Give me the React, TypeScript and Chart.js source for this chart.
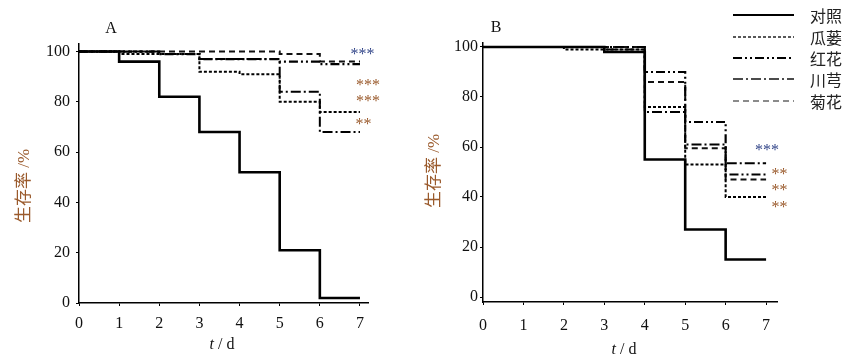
import React, { useEffect, useRef } from 'react';
import { Chart, registerables } from 'chart.js';
Chart.register(...registerables);

// ---------- data ----------
const days = [0, 1, 2, 3, 4, 5, 6, 7];
const xTickLabels = ['0', '1', '2', '3', '4', '5', '6', '7'];
const yTickValues = [0, 20, 40, 60, 80, 100];
const seriesNames = ['对照', '瓜蒌', '红花', '川芎', '菊花'];

// Panel A survival (%) per day (value holds until next day)
const controlA = [100, 96, 82, 68, 52, 21, 2, 2];
const gualouA = [100, 99, 99, 92, 91, 80, 76, 76];
const honghuaA = [100, 100, 99, 97, 97, 96, 95, 95];
const chuanxiongA = [100, 100, 99, 97, 97, 84, 68, 68];
const juhuaA = [100, 100, 100, 100, 100, 99, 96, 96];

// Panel B survival (%)
const controlB = [100, 100, 100, 98, 55, 27, 15, 15];
const gualouB = [100, 100, 99, 99, 76, 53, 40, 40];
const honghuaB = [100, 100, 100, 100, 90, 70, 49, 49];
const chuanxiongB = [100, 100, 100, 99, 74, 61, 53.5, 53.5];
const juhuaB = [100, 100, 100, 100, 86, 59.5, 47, 47];

// significance marks (data coordinates)
const starTextA = ['***', '***', '***', '**'];
const starDayA = [7.06, 7.2, 7.2, 7.09];
const starValA = [100, 87.6, 81.3, 72.1];
const starTextB = ['***', '**', '**', '**'];
const starDayB = [7.02, 7.33, 7.33, 7.33];
const starValB = [59.6, 50, 43.6, 36.8];

// ---------- styles ----------
const SERIF = "'Liberation Serif', 'DejaVu Serif', serif";
const MIXED = "'Liberation Serif', 'Noto Sans CJK SC', serif";
const BROWN = '#9a5a2c';
const BLUE = '#34478a';
const seriesStyles = [
  { dash: [] as number[], width: 2.6, color: '#000', legendColor: '#000', legendWidth: 2 },
  { dash: [3, 2], width: 2, color: '#000', legendColor: '#222', legendWidth: 1.5 },
  { dash: [9, 3, 2, 3, 2, 3], width: 2.2, color: '#000', legendColor: '#000', legendWidth: 2 },
  { dash: [10, 3, 2, 3], width: 2, color: '#000', legendColor: '#111', legendWidth: 1.5 },
  { dash: [6, 4], width: 2, color: '#111', legendColor: '#666', legendWidth: 1.5 },
];

type PanelCfg = {
  series: number[][];
  letter: string;
  letterPos: [number, number];
  xMax: number;
  yMin: number;
  yMax: number;
  yAxisW: number;
  xAxisH: number;
  padTop: number;
  padRight: number;
  xTickPad: number;
  yTickPad: number;
  yTitlePos: [number, number];
  xTitlePos: [number, number];
  starText: string[];
  starDay: number[];
  starVal: number[];
  starColors: string[];
  legend: boolean;
};

function drawXTitle(ctx: CanvasRenderingContext2D, cx: number, cy: number) {
  ctx.save();
  ctx.fillStyle = '#111';
  ctx.textBaseline = 'middle';
  ctx.textAlign = 'left';
  const italic = `italic 16px ${SERIF}`;
  const normal = `16px ${SERIF}`;
  ctx.font = italic;
  const w1 = ctx.measureText('t').width;
  ctx.font = normal;
  const w2 = ctx.measureText(' / d').width;
  const x0 = cx - (w1 + w2) / 2;
  ctx.font = italic;
  ctx.fillText('t', x0, cy);
  ctx.font = normal;
  ctx.fillText(' / d', x0 + w1, cy);
  ctx.restore();
}

function makeChart(canvas: HTMLCanvasElement, p: PanelCfg) {
  const datasets = p.series.map((vals, i) => ({
    label: seriesNames[i],
    data: days.map((d, j) => ({ x: d, y: vals[j] })),
    stepped: 'before' as const,
    borderColor: seriesStyles[i].color,
    borderWidth: seriesStyles[i].width,
    borderDash: seriesStyles[i].dash,
    borderCapStyle: 'butt' as const,
    pointRadius: 0,
    fill: false,
  }));

  const decor = {
    id: 'decor' + p.letter,
    afterDraw(chart: any) {
      const ctx: CanvasRenderingContext2D = chart.ctx;
      const xs = chart.scales.x;
      const ys = chart.scales.y;
      ctx.save();
      // panel letter
      ctx.fillStyle = '#111';
      ctx.font = `16px ${SERIF}`;
      ctx.textAlign = 'center';
      ctx.textBaseline = 'middle';
      ctx.fillText(p.letter, p.letterPos[0], p.letterPos[1]);
      // y title
      ctx.save();
      ctx.translate(p.yTitlePos[0], p.yTitlePos[1]);
      ctx.rotate(-Math.PI / 2);
      ctx.fillStyle = BROWN;
      ctx.font = `17px ${MIXED}`;
      ctx.fillText('生存率 /%', 0, 0);
      ctx.restore();
      // x title
      drawXTitle(ctx, p.xTitlePos[0], p.xTitlePos[1]);
      // stars
      ctx.font = `16px ${SERIF}`;
      p.starText.forEach((t, i) => {
        ctx.fillStyle = p.starColors[i];
        ctx.fillText(t, xs.getPixelForValue(p.starDay[i]), ys.getPixelForValue(p.starVal[i]) + 3);
      });
      // legend
      if (p.legend) {
        const rowsY = [15, 37, 58, 79, 101];
        chart.data.datasets.forEach((ds: any, i: number) => {
          const st = seriesStyles[i];
          ctx.save();
          ctx.strokeStyle = st.legendColor;
          ctx.lineWidth = st.legendWidth;
          ctx.setLineDash(ds.borderDash || []);
          ctx.beginPath();
          ctx.moveTo(313, rowsY[i]);
          ctx.lineTo(374, rowsY[i]);
          ctx.stroke();
          ctx.restore();
          ctx.fillStyle = '#222';
          ctx.font = `16px 'Noto Sans CJK SC', sans-serif`;
          ctx.textAlign = 'left';
          ctx.fillText(ds.label, 390, rowsY[i] + 1);
        });
      }
      ctx.restore();
    },
  };

  return new Chart(canvas, {
    type: 'line',
    data: { datasets },
    options: {
      animation: false,
      responsive: false,
      maintainAspectRatio: false,
      layout: { padding: { left: 0, top: p.padTop, right: p.padRight, bottom: 0 } },
      plugins: { legend: { display: false }, tooltip: { enabled: false } },
      scales: {
        x: {
          type: 'linear',
          min: 0,
          max: p.xMax,
          afterBuildTicks: (s: any) => {
            s.ticks = days.map((v) => ({ value: v }));
          },
          afterFit: (s: any) => {
            s.height = p.xAxisH;
          },
          ticks: {
            autoSkip: false,
            maxRotation: 0,
            padding: p.xTickPad,
            color: '#111',
            font: { family: SERIF, size: 16 },
            callback: (_v: any, i: number) => xTickLabels[i],
          },
          grid: { drawOnChartArea: false, drawTicks: true, tickLength: 3, color: '#000', lineWidth: 1 },
          border: { color: '#000', width: 1.5 },
        },
        y: {
          type: 'linear',
          position: 'left',
          min: p.yMin,
          max: p.yMax,
          afterBuildTicks: (s: any) => {
            s.ticks = yTickValues.map((v) => ({ value: v }));
          },
          afterFit: (s: any) => {
            s.width = p.yAxisW;
          },
          ticks: {
            padding: p.yTickPad,
            color: '#111',
            font: { family: SERIF, size: 16 },
            callback: (v: any) => String(v),
          },
          grid: { drawOnChartArea: false, drawTicks: true, tickLength: 3, color: '#000', lineWidth: 1 },
          border: { color: '#000', width: 1.5 },
        },
      },
    },
    plugins: [decor],
  } as any);
}

export default function App() {
  const refA = useRef<HTMLCanvasElement>(null);
  const refB = useRef<HTMLCanvasElement>(null);

  useEffect(() => {
    const a = makeChart(refA.current!, {
      series: [controlA, gualouA, honghuaA, chuanxiongA, juhuaA],
      letter: 'A',
      letterPos: [111, 29],
      xMax: 7.2,
      yMin: 0,
      yMax: 103,
      yAxisW: 79,
      xAxisH: 58,
      padTop: 44,
      padRight: 52,
      xTickPad: 8,
      yTickPad: 6,
      yTitlePos: [25, 186],
      xTitlePos: [222, 345],
      starText: starTextA,
      starDay: starDayA,
      starVal: starValA,
      starColors: [BLUE, BROWN, BROWN, BROWN],
      legend: false,
    });
    const b = makeChart(refB.current!, {
      series: [controlB, gualouB, honghuaB, chuanxiongB, juhuaB],
      letter: 'B',
      letterPos: [76, 28],
      xMax: 7.27,
      yMin: -2,
      yMax: 101.6,
      yAxisW: 63,
      xAxisH: 59,
      padTop: 43,
      padRight: 79,
      xTickPad: 11,
      yTickPad: 2,
      yTitlePos: [15, 171],
      xTitlePos: [204, 350],
      starText: starTextB,
      starDay: starDayB,
      starVal: starValB,
      starColors: [BLUE, BROWN, BROWN, BROWN],
      legend: true,
    });
    return () => {
      a.destroy();
      b.destroy();
    };
  }, []);

  return (
    <div style={{ position: 'absolute', left: 0, top: 0, width: 856, height: 361, background: '#fff' }}>
      <canvas ref={refA} width={420} height={361} style={{ position: 'absolute', left: 0, top: 0, display: 'block' }} />
      <canvas ref={refB} width={436} height={361} style={{ position: 'absolute', left: 420, top: 0, display: 'block' }} />
    </div>
  );
}
